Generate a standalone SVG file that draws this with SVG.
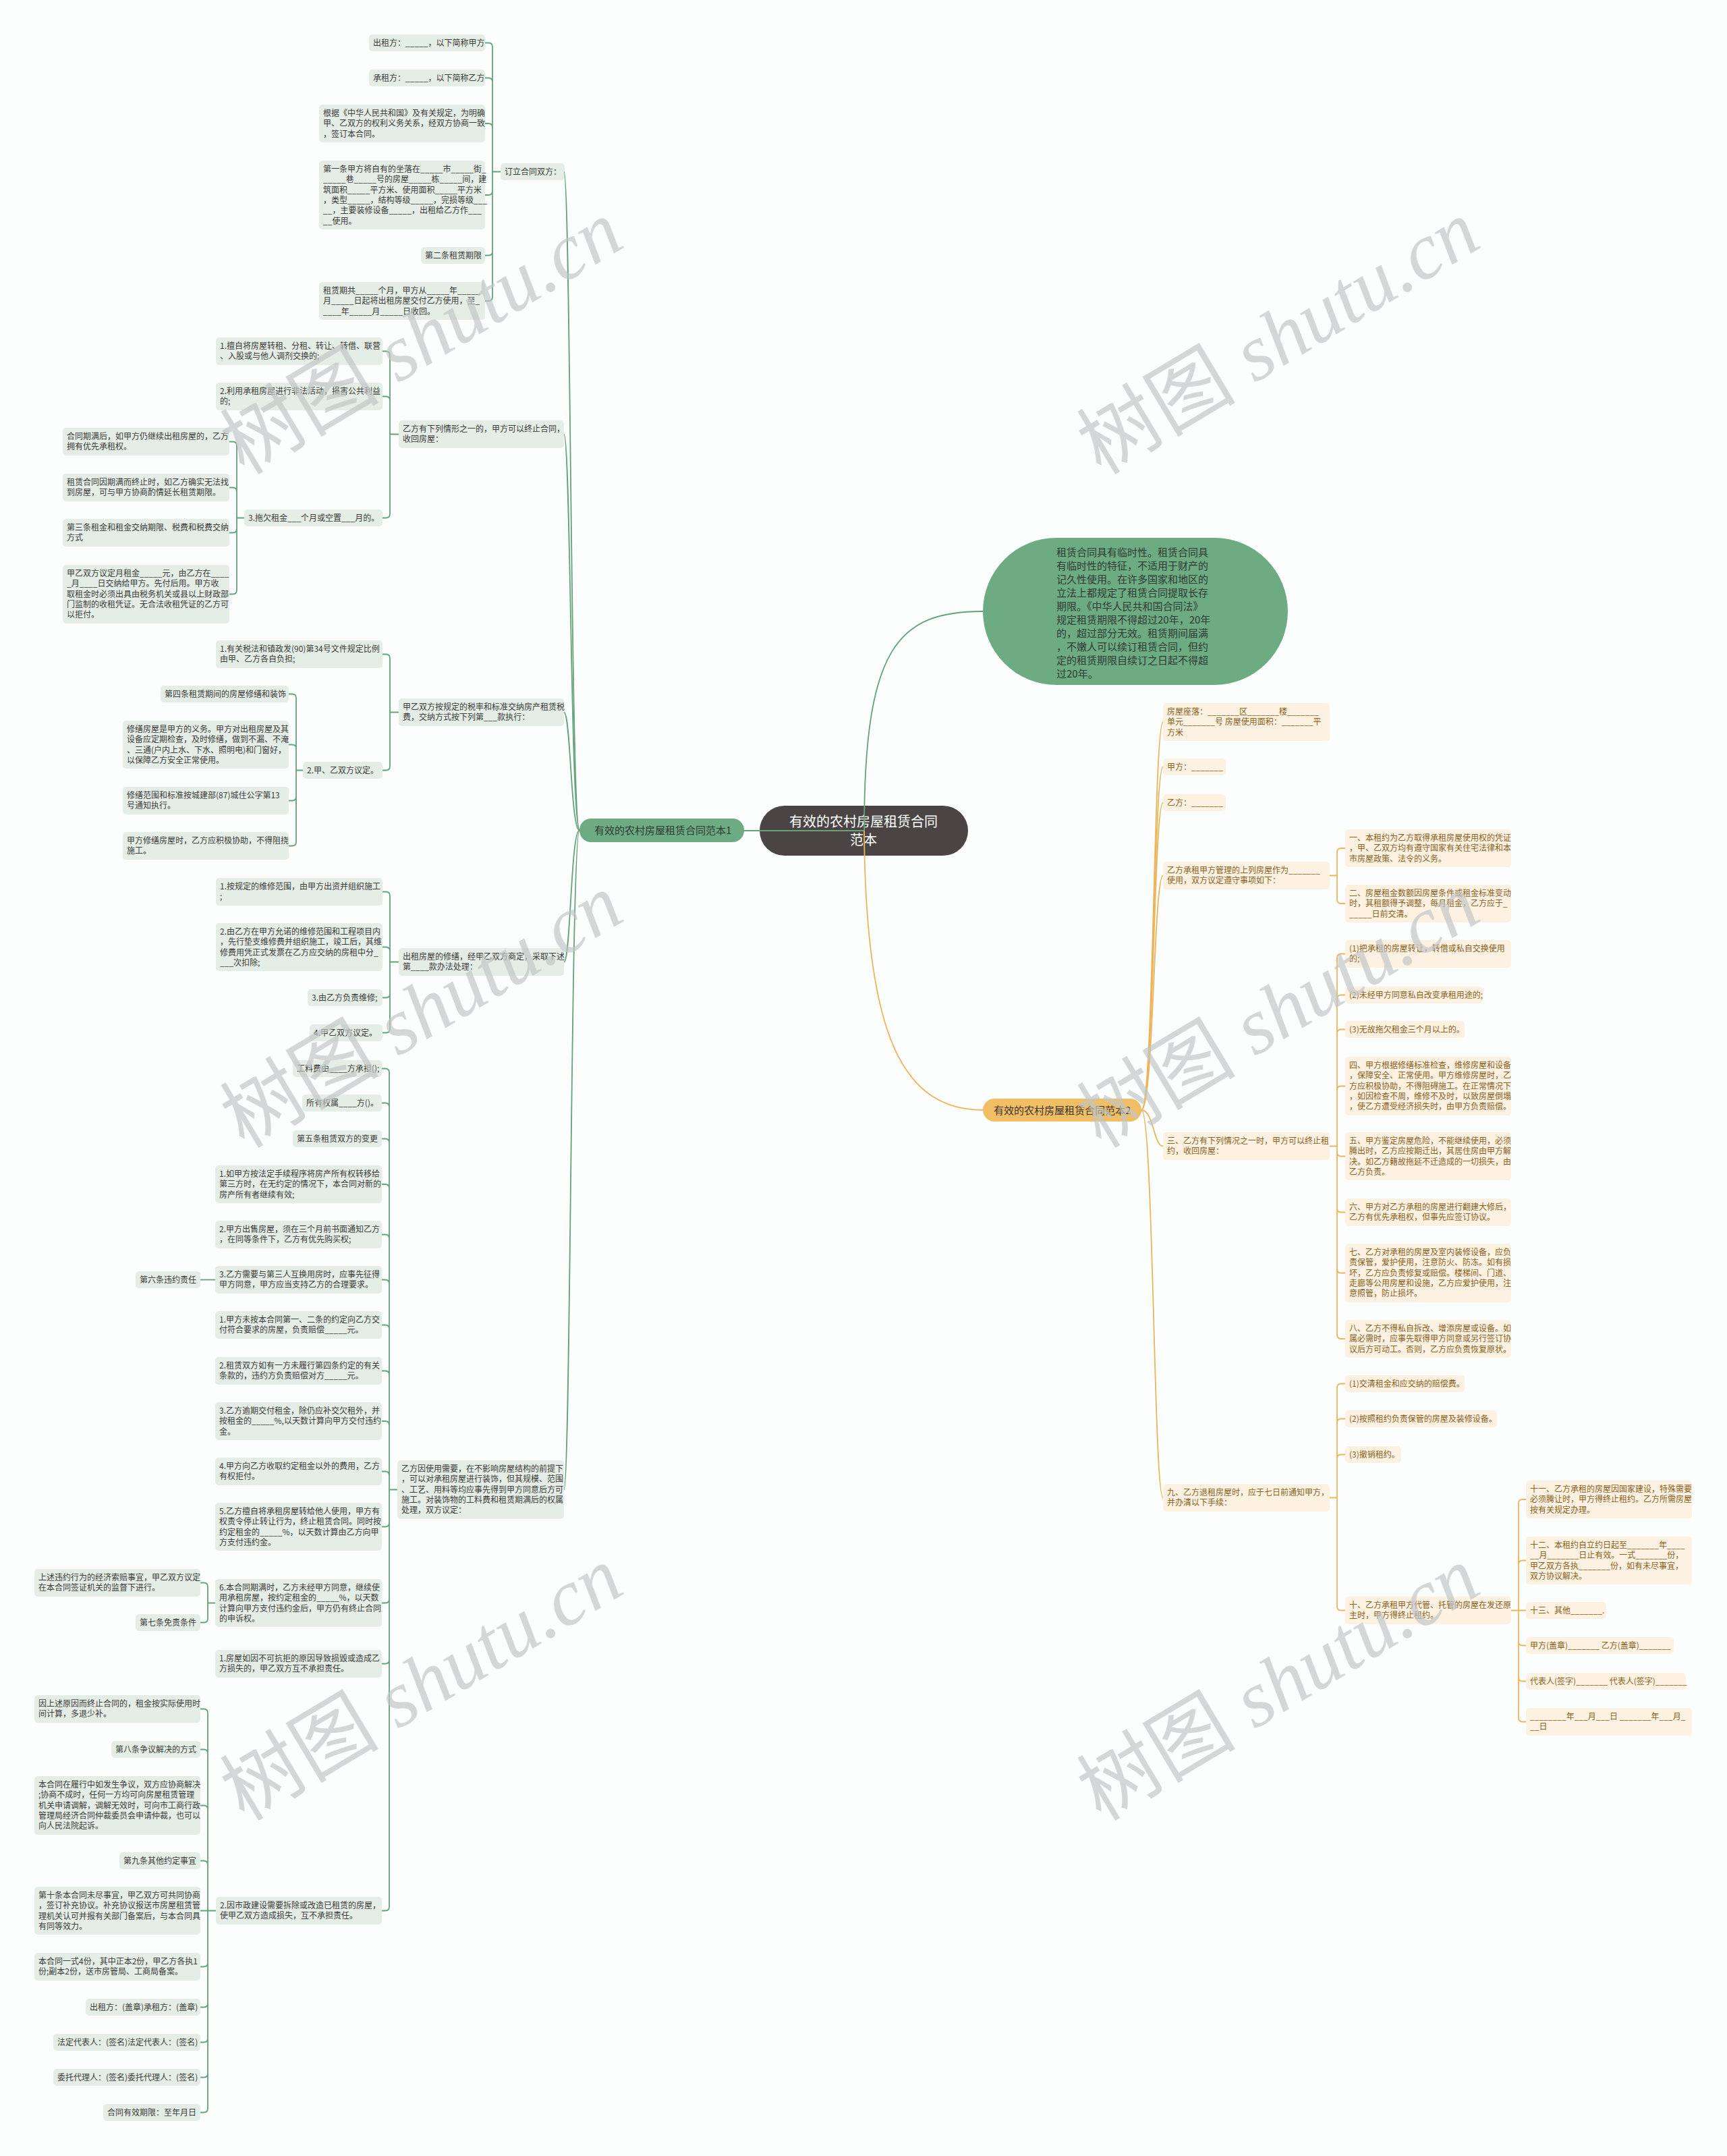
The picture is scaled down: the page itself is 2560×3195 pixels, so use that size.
<svg xmlns="http://www.w3.org/2000/svg" width="2560" height="3195" viewBox="0 0 2560 3195">
<style>
text{font-family:"Noto Sans CJK SC","Noto Sans",sans-serif;font-size:12px}
.l rect{fill:#e4eee6}
.l text{fill:#3b3b3b}
.r rect{fill:#fdf1e1}
.r text{fill:#8a5f1c}
.cg{fill:none;stroke:#64a27a;stroke-width:1.8}
.co{fill:none;stroke:#ebb55d;stroke-width:1.8}
.wm text{font-size:118px;fill:#c2c6c6;opacity:.68}
.wm .s{font-family:"Liberation Serif",serif;font-style:italic}
</style>
<rect x="0" y="0" width="2560" height="3195" fill="#fbfefd"/>
<g id="nodes">
<g id="root"><rect x="1126" y="1194" width="309" height="74" rx="37" fill="#4a4544"/><text x="1280" y="1225" text-anchor="middle" style="font-size:20px;fill:#ffffff">有效的农村房屋租赁合同<tspan x="1280" dy="27">范本</tspan></text></g>
<g id="intro"><rect x="1457" y="797" width="452" height="218" rx="109" fill="#6dab82"/><text x="1566" y="824" style="font-size:15px;fill:#2f3a33">租赁合同具有临时性。租赁合同具<tspan x="1566" dy="20">有临时性的特征，不适用于财产的</tspan><tspan x="1566" dy="20">记久性使用。在许多国家和地区的</tspan><tspan x="1566" dy="20">立法上都规定了租赁合同提取长存</tspan><tspan x="1566" dy="20">期限。《中华人民共和国合同法》</tspan><tspan x="1566" dy="20">规定租赁期限不得超过20年，20年</tspan><tspan x="1566" dy="20">的，超过部分无效。租赁期间届满</tspan><tspan x="1566" dy="20">，不嫩人可以续订租赁合同，但约</tspan><tspan x="1566" dy="20">定的租赁期限自续订之日起不得超</tspan><tspan x="1566" dy="20">过20年。</tspan></text></g>
<g id="b1"><rect x="859" y="1213" width="244" height="35" rx="17" fill="#6dab82"/><text x="881" y="1236" style="font-size:15px;fill:#2f3a33">有效的农村房屋租赁合同范本1</text></g>
<g id="b2"><rect x="1457" y="1628" width="235" height="34" rx="17" fill="#f0be64"/><text x="1473" y="1651" style="font-size:15px;fill:#3d3325">有效的农村房屋租赁合同范本2</text></g>

<g id="A" class="l"><rect x="742" y="242" width="95" height="25" rx="5"/><text x="748" y="259">订立合同双方：</text></g>
<g id="A1" class="l"><rect x="547" y="51" width="172" height="25" rx="5"/><text x="553" y="68">出租方：_____，以下简称甲方</text></g>
<g id="A2" class="l"><rect x="547" y="103" width="172" height="25" rx="5"/><text x="553" y="120">承租方：_____，以下简称乙方</text></g>
<g id="A3" class="l"><rect x="473" y="155" width="246" height="56" rx="5"/><text x="479" y="172">根据《中华人民共和国》及有关规定，为明确<tspan x="479" dy="15.3">甲、乙双方的权利义务关系，经双方协商一致</tspan><tspan x="479" dy="15.3">，签订本合同。</tspan></text></g>
<g id="A4" class="l"><rect x="473" y="238" width="246" height="102" rx="5"/><text x="479" y="255">第一条甲方将自有的坐落在_____市_____街_<tspan x="479" dy="15.3">_____巷_____号的房屋_____栋_____间，建</tspan><tspan x="479" dy="15.3">筑面积_____平方米、使用面积_____平方米</tspan><tspan x="479" dy="15.3">，类型_____，结构等级_____，完损等级___</tspan><tspan x="479" dy="15.3">__，主要装修设备_____，出租给乙方作___</tspan><tspan x="479" dy="15.3">__使用。</tspan></text></g>
<g id="A5" class="l"><rect x="624" y="366" width="95" height="25" rx="5"/><text x="630" y="383">第二条租赁期限</text></g>
<g id="A6" class="l"><rect x="473" y="418" width="246" height="56" rx="5"/><text x="479" y="435">租赁期共_____个月，甲方从_____年_____<tspan x="479" dy="15.3">月_____日起将出租房屋交付乙方使用，至_</tspan><tspan x="479" dy="15.3">____年_____月_____日收回。</tspan></text></g>

<g id="B" class="l"><rect x="591" y="623" width="245" height="41" rx="5"/><text x="597" y="640">乙方有下列情形之一的，甲方可以终止合同，<tspan x="597" dy="15.3">收回房屋：</tspan></text></g>
<g id="B1" class="l"><rect x="320" y="500" width="247" height="41" rx="5"/><text x="326" y="517">1.擅自将房屋转租、分租、转让、转借、联营<tspan x="326" dy="15.3">、入股或与他人调剂交换的;</tspan></text></g>
<g id="B2" class="l"><rect x="320" y="567" width="247" height="41" rx="5"/><text x="326" y="584">2.利用承租房屋进行非法活动，损害公共利益<tspan x="326" dy="15.3">的;</tspan></text></g>
<g id="B3" class="l"><rect x="362" y="755" width="205" height="25" rx="5"/><text x="368" y="772">3.拖欠租金___个月或空置___月的。</text></g>
<g id="B3a" class="l"><rect x="93" y="634" width="247" height="41" rx="5"/><text x="99" y="651">合同期满后，如甲方仍继续出租房屋的，乙方<tspan x="99" dy="15.3">拥有优先承租权。</tspan></text></g>
<g id="B3b" class="l"><rect x="93" y="702" width="247" height="41" rx="5"/><text x="99" y="719">租赁合同因期满而终止时，如乙方确实无法找<tspan x="99" dy="15.3">到房屋，可与甲方协商酌情延长租赁期限。</tspan></text></g>
<g id="B3c" class="l"><rect x="93" y="769" width="247" height="41" rx="5"/><text x="99" y="786">第三条租金和租金交纳期限、税费和税费交纳<tspan x="99" dy="15.3">方式</tspan></text></g>
<g id="B3d" class="l"><rect x="93" y="837" width="247" height="87" rx="5"/><text x="99" y="854">甲乙双方议定月租金_____元，由乙方在____<tspan x="99" dy="15.3">_月____日交纳给甲方。先付后用。甲方收</tspan><tspan x="99" dy="15.3">取租金时必须出具由税务机关或县以上财政部</tspan><tspan x="99" dy="15.3">门监制的收租凭证。无合法收租凭证的乙方可</tspan><tspan x="99" dy="15.3">以拒付。</tspan></text></g>

<g id="C" class="l"><rect x="591" y="1035" width="245" height="41" rx="5"/><text x="597" y="1052">甲乙双方按规定的税率和标准交纳房产租赁税<tspan x="597" dy="15.3">费，交纳方式按下列第___款执行：</tspan></text></g>
<g id="C1" class="l"><rect x="320" y="949" width="247" height="41" rx="5"/><text x="326" y="966">1.有关税法和镇政发(90)第34号文件规定比例<tspan x="326" dy="15.3">由甲、乙方各自负担;</tspan></text></g>
<g id="C2" class="l"><rect x="449" y="1129" width="118" height="25" rx="5"/><text x="455" y="1146">2.甲、乙双方议定。</text></g>
<g id="C2a" class="l"><rect x="238" y="1016" width="190" height="25" rx="5"/><text x="244" y="1033">第四条租赁期间的房屋修缮和装饰</text></g>
<g id="C2b" class="l"><rect x="182" y="1068" width="246" height="71" rx="5"/><text x="188" y="1085">修缮房屋是甲方的义务。甲方对出租房屋及其<tspan x="188" dy="15.3">设备应定期检查，及时修缮，做到不漏、不淹</tspan><tspan x="188" dy="15.3">、三通(户内上水、下水、照明电)和门窗好，</tspan><tspan x="188" dy="15.3">以保障乙方安全正常使用。</tspan></text></g>
<g id="C2c" class="l"><rect x="182" y="1166" width="246" height="41" rx="5"/><text x="188" y="1183">修缮范围和标准按城建部(87)城住公字第13<tspan x="188" dy="15.3">号通知执行。</tspan></text></g>
<g id="C2d" class="l"><rect x="182" y="1233" width="246" height="41" rx="5"/><text x="188" y="1250">甲方修缮房屋时，乙方应积极协助，不得阻挠<tspan x="188" dy="15.3">施工。</tspan></text></g>

<g id="D" class="l"><rect x="591" y="1405" width="245" height="41" rx="5"/><text x="597" y="1422">出租房屋的修缮，经甲乙双方商定，采取下述<tspan x="597" dy="15.3">第____款办法处理：</tspan></text></g>
<g id="D1" class="l"><rect x="320" y="1301" width="247" height="41" rx="5"/><text x="326" y="1318">1.按规定的维修范围，由甲方出资并组织施工<tspan x="326" dy="15.3">;</tspan></text></g>
<g id="D2" class="l"><rect x="320" y="1368" width="247" height="71" rx="5"/><text x="326" y="1385">2.由乙方在甲方允诺的维修范围和工程项目内<tspan x="326" dy="15.3">，先行垫支维修费并组织施工，竣工后，其维</tspan><tspan x="326" dy="15.3">修费用凭正式发票在乙方应交纳的房租中分_</tspan><tspan x="326" dy="15.3">___次扣除;</tspan></text></g>
<g id="D3" class="l"><rect x="456" y="1466" width="111" height="25" rx="5"/><text x="462" y="1483">3.由乙方负责维修;</text></g>
<g id="D4" class="l"><rect x="459" y="1518" width="108" height="25" rx="5"/><text x="465" y="1535">4.甲乙双方议定。</text></g>

<g id="E" class="l"><rect x="589" y="2164" width="247" height="87" rx="5"/><text x="595" y="2181">乙方因使用需要，在不影响房屋结构的前提下<tspan x="595" dy="15.3">，可以对承租房屋进行装饰，但其规模、范围</tspan><tspan x="595" dy="15.3">、工艺、用料等均应事先得到甲方同意后方可</tspan><tspan x="595" dy="15.3">施工。对装饰物的工料费和租赁期满后的权属</tspan><tspan x="595" dy="15.3">处理，双方议定：</tspan></text></g>
<g id="E1" class="l"><rect x="434" y="1571" width="132" height="25" rx="5"/><text x="440" y="1588">工料费由____方承担();</text></g>
<g id="E2" class="l"><rect x="448" y="1622" width="118" height="25" rx="5"/><text x="454" y="1639">所有权属____方()。</text></g>
<g id="E3" class="l"><rect x="434" y="1675" width="132" height="25" rx="5"/><text x="440" y="1692">第五条租赁双方的变更</text></g>
<g id="E4" class="l"><rect x="319" y="1727" width="247" height="56" rx="5"/><text x="325" y="1744">1.如甲方按法定手续程序将房产所有权转移给<tspan x="325" dy="15.3">第三方时，在无约定的情况下，本合同对新的</tspan><tspan x="325" dy="15.3">房产所有者继续有效;</tspan></text></g>
<g id="E5" class="l"><rect x="319" y="1809" width="247" height="41" rx="5"/><text x="325" y="1826">2.甲方出售房屋，须在三个月前书面通知乙方<tspan x="325" dy="15.3">，在同等条件下，乙方有优先购买权;</tspan></text></g>
<g id="E6" class="l"><rect x="319" y="1876" width="247" height="41" rx="5"/><text x="325" y="1893">3.乙方需要与第三人互换用房时，应事先征得<tspan x="325" dy="15.3">甲方同意，甲方应当支持乙方的合理要求。</tspan></text></g>
<g id="E6a" class="l"><rect x="201" y="1884" width="96" height="25" rx="5"/><text x="207" y="1901">第六条违约责任</text></g>
<g id="E7" class="l"><rect x="319" y="1943" width="247" height="41" rx="5"/><text x="325" y="1960">1.甲方未按本合同第一、二条的约定向乙方交<tspan x="325" dy="15.3">付符合要求的房屋，负责赔偿_____元。</tspan></text></g>
<g id="E8" class="l"><rect x="319" y="2011" width="247" height="41" rx="5"/><text x="325" y="2028">2.租赁双方如有一方未履行第四条约定的有关<tspan x="325" dy="15.3">条款的，违约方负责赔偿对方_____元。</tspan></text></g>
<g id="E9" class="l"><rect x="319" y="2078" width="247" height="56" rx="5"/><text x="325" y="2095">3.乙方逾期交付租金，除仍应补交欠租外，并<tspan x="325" dy="15.3">按租金的_____%,以天数计算向甲方交付违约</tspan><tspan x="325" dy="15.3">金。</tspan></text></g>
<g id="E10" class="l"><rect x="319" y="2160" width="247" height="41" rx="5"/><text x="325" y="2177">4.甲方向乙方收取约定租金以外的费用，乙方<tspan x="325" dy="15.3">有权拒付。</tspan></text></g>
<g id="E11" class="l"><rect x="319" y="2227" width="247" height="71" rx="5"/><text x="325" y="2244">5.乙方擅自将承租房屋转给他人使用，甲方有<tspan x="325" dy="15.3">权责令停止转让行为，终止租赁合同。同时按</tspan><tspan x="325" dy="15.3">约定租金的_____%，以天数计算由乙方向甲</tspan><tspan x="325" dy="15.3">方支付违约金。</tspan></text></g>
<g id="E12" class="l"><rect x="319" y="2340" width="247" height="71" rx="5"/><text x="325" y="2357">6.本合同期满时，乙方未经甲方同意，继续使<tspan x="325" dy="15.3">用承租房屋，按约定租金的_____%，以天数</tspan><tspan x="325" dy="15.3">计算向甲方支付违约金后，甲方仍有终止合同</tspan><tspan x="325" dy="15.3">的申诉权。</tspan></text></g>
<g id="E12a" class="l"><rect x="51" y="2325" width="246" height="41" rx="5"/><text x="57" y="2342">上述违约行为的经济索赔事宜，甲乙双方议定<tspan x="57" dy="15.3">在本合同签证机关的监督下进行。</tspan></text></g>
<g id="E12b" class="l"><rect x="201" y="2392" width="96" height="25" rx="5"/><text x="207" y="2409">第七条免责条件</text></g>
<g id="E13" class="l"><rect x="319" y="2445" width="247" height="41" rx="5"/><text x="325" y="2462">1.房屋如因不可抗拒的原因导致损毁或造成乙<tspan x="325" dy="15.3">方损失的，甲乙双方互不承担责任。</tspan></text></g>
<g id="E14" class="l"><rect x="320" y="2811" width="246" height="41" rx="5"/><text x="326" y="2828">2.因市政建设需要拆除或改造已租赁的房屋，<tspan x="326" dy="15.3">使甲乙双方造成损失，互不承担责任。</tspan></text></g>
<g id="E14a" class="l"><rect x="51" y="2512" width="246" height="41" rx="5"/><text x="57" y="2529">因上述原因而终止合同的，租金按实际使用时<tspan x="57" dy="15.3">间计算，多退少补。</tspan></text></g>
<g id="E14b" class="l"><rect x="165" y="2580" width="132" height="25" rx="5"/><text x="171" y="2597">第八条争议解决的方式</text></g>
<g id="E14c" class="l"><rect x="51" y="2632" width="246" height="87" rx="5"/><text x="57" y="2649">本合同在履行中如发生争议，双方应协商解决<tspan x="57" dy="15.3">;协商不成时，任何一方均可向房屋租赁管理</tspan><tspan x="57" dy="15.3">机关申请调解，调解无效时，可向市工商行政</tspan><tspan x="57" dy="15.3">管理局经济合同仲裁委员会申请仲裁，也可以</tspan><tspan x="57" dy="15.3">向人民法院起诉。</tspan></text></g>
<g id="E14d" class="l"><rect x="177" y="2745" width="120" height="25" rx="5"/><text x="183" y="2762">第九条其他约定事宜</text></g>
<g id="E14e" class="l"><rect x="51" y="2796" width="246" height="71" rx="5"/><text x="57" y="2813">第十条本合同未尽事宜，甲乙双方可共同协商<tspan x="57" dy="15.3">，签订补充协议。补充协议报送市房屋租赁管</tspan><tspan x="57" dy="15.3">理机关认可并报有关部门备案后，与本合同具</tspan><tspan x="57" dy="15.3">有同等效力。</tspan></text></g>
<g id="E14f" class="l"><rect x="51" y="2894" width="246" height="41" rx="5"/><text x="57" y="2911">本合同一式4份，其中正本2份，甲乙方各执1<tspan x="57" dy="15.3">份;副本2份，送市房管局、工商局备案。</tspan></text></g>
<g id="E14g" class="l"><rect x="127" y="2962" width="170" height="25" rx="5"/><text x="133" y="2979">出租方：(盖章)承租方：(盖章)</text></g>
<g id="E14h" class="l"><rect x="79" y="3014" width="218" height="25" rx="5"/><text x="85" y="3031">法定代表人：(签名)法定代表人：(签名)</text></g>
<g id="E14i" class="l"><rect x="79" y="3066" width="218" height="25" rx="5"/><text x="85" y="3083">委托代理人：(签名)委托代理人：(签名)</text></g>
<g id="E14j" class="l"><rect x="153" y="3118" width="144" height="25" rx="5"/><text x="159" y="3135">合同有效期限：至年月日</text></g>

<g id="R1" class="r"><rect x="1724" y="1042" width="247" height="56" rx="5"/><text x="1730" y="1059">房屋座落：_______区_______楼_______<tspan x="1730" dy="15.3">单元_______号 房屋使用面积：_______平</tspan><tspan x="1730" dy="15.3">方米</tspan></text></g>
<g id="R2" class="r"><rect x="1724" y="1124" width="93" height="25" rx="5"/><text x="1730" y="1141">甲方：_______</text></g>
<g id="R3" class="r"><rect x="1724" y="1177" width="93" height="25" rx="5"/><text x="1730" y="1194">乙方：_______</text></g>
<g id="R4" class="r"><rect x="1724" y="1277" width="247" height="41" rx="5"/><text x="1730" y="1294">乙方承租甲方管理的上列房屋作为_______<tspan x="1730" dy="15.3">使用，双方议定遵守事项如下：</tspan></text></g>
<g id="R4a" class="r"><rect x="1994" y="1229" width="246" height="56" rx="5"/><text x="2000" y="1246">一、本租约为乙方取得承租房屋使用权的凭证<tspan x="2000" dy="15.3">，甲、乙双方均有遵守国家有关住宅法律和本</tspan><tspan x="2000" dy="15.3">市房屋政策、法令的义务。</tspan></text></g>
<g id="R4b" class="r"><rect x="1994" y="1311" width="246" height="56" rx="5"/><text x="2000" y="1328">二、房屋租金数额因房屋条件或租金标准变动<tspan x="2000" dy="15.3">时，其租额得予调整，每月租金，乙方应于_</tspan><tspan x="2000" dy="15.3">_____日前交清。</tspan></text></g>
<g id="R5" class="r"><rect x="1724" y="1678" width="247" height="41" rx="5"/><text x="1730" y="1695">三、乙方有下列情况之一时，甲方可以终止租<tspan x="1730" dy="15.3">约，收回房屋：</tspan></text></g>
<g id="R5a" class="r"><rect x="1994" y="1393" width="246" height="41" rx="5"/><text x="2000" y="1410">(1)把承租的房屋转让，转借或私自交换使用<tspan x="2000" dy="15.3">的;</tspan></text></g>
<g id="R5b" class="r"><rect x="1994" y="1462" width="204" height="25" rx="5"/><text x="2000" y="1479">(2)未经甲方同意私自改变承租用途的;</text></g>
<g id="R5c" class="r"><rect x="1994" y="1513" width="177" height="25" rx="5"/><text x="2000" y="1530">(3)无故拖欠租金三个月以上的。</text></g>
<g id="R5d" class="r"><rect x="1994" y="1566" width="246" height="87" rx="5"/><text x="2000" y="1583">四、甲方根据修缮标准检查，维修房屋和设备<tspan x="2000" dy="15.3">，保障安全、正常使用。甲方维修房屋时，乙</tspan><tspan x="2000" dy="15.3">方应积极协助，不得阻碍施工。在正常情况下</tspan><tspan x="2000" dy="15.3">，如因检查不周，维修不及时，以致房屋倒塌</tspan><tspan x="2000" dy="15.3">，使乙方遭受经济损失时，由甲方负责赔偿。</tspan></text></g>
<g id="R5e" class="r"><rect x="1994" y="1678" width="246" height="71" rx="5"/><text x="2000" y="1695">五、甲方鉴定房屋危险，不能继续使用，必须<tspan x="2000" dy="15.3">腾出时，乙方应按期迁出，其居住房由甲方解</tspan><tspan x="2000" dy="15.3">决。如乙方籍故拖延不迁造成的一切损失，由</tspan><tspan x="2000" dy="15.3">乙方负责。</tspan></text></g>
<g id="R5f" class="r"><rect x="1994" y="1776" width="246" height="41" rx="5"/><text x="2000" y="1793">六、甲方对乙方承租的房屋进行翻建大修后，<tspan x="2000" dy="15.3">乙方有优先承租权，但事先应签订协议。</tspan></text></g>
<g id="R5g" class="r"><rect x="1994" y="1843" width="246" height="87" rx="5"/><text x="2000" y="1860">七、乙方对承租的房屋及室内装修设备，应负<tspan x="2000" dy="15.3">责保管，爱护使用，注意防火、防冻。如有损</tspan><tspan x="2000" dy="15.3">坏，乙方应负责修复或赔偿。楼梯间、门道、</tspan><tspan x="2000" dy="15.3">走廊等公用房屋和设施，乙方应爱护使用，注</tspan><tspan x="2000" dy="15.3">意照管，防止损坏。</tspan></text></g>
<g id="R5h" class="r"><rect x="1994" y="1956" width="246" height="56" rx="5"/><text x="2000" y="1973">八、乙方不得私自拆改、增添房屋或设备。如<tspan x="2000" dy="15.3">属必需时，应事先取得甲方同意或另行签订协</tspan><tspan x="2000" dy="15.3">议后方可动工。否则，乙方应负责恢复原状。</tspan></text></g>
<g id="R6" class="r"><rect x="1724" y="2199" width="247" height="41" rx="5"/><text x="1730" y="2216">九、乙方退租房屋时，应于七日前通知甲方，<tspan x="1730" dy="15.3">并办清以下手续：</tspan></text></g>
<g id="R6a" class="r"><rect x="1994" y="2038" width="177" height="25" rx="5"/><text x="2000" y="2055">(1)交清租金和应交纳的赔偿费。</text></g>
<g id="R6b" class="r"><rect x="1994" y="2090" width="225" height="25" rx="5"/><text x="2000" y="2107">(2)按照租约负责保管的房屋及装修设备。</text></g>
<g id="R6c" class="r"><rect x="1994" y="2143" width="83" height="25" rx="5"/><text x="2000" y="2160">(3)撤销租约。</text></g>
<g id="R6d" class="r"><rect x="1994" y="2366" width="246" height="41" rx="5"/><text x="2000" y="2383">十、乙方承租甲方代管、托管的房屋在发还原<tspan x="2000" dy="15.3">主时，甲方得终止租约。</tspan></text></g>
<g id="R6d1" class="r"><rect x="2262" y="2194" width="246" height="56" rx="5"/><text x="2268" y="2211">十一、乙方承租的房屋因国家建设，特殊需要<tspan x="2268" dy="15.3">必须腾让时，甲方得终止租约。乙方所需房屋</tspan><tspan x="2268" dy="15.3">按有关规定办理。</tspan></text></g>
<g id="R6d2" class="r"><rect x="2262" y="2277" width="246" height="71" rx="5"/><text x="2268" y="2294">十二、本租约自立约日起至_______年____<tspan x="2268" dy="15.3">__月_______日止有效。一式_______份，</tspan><tspan x="2268" dy="15.3">甲乙双方各执_______份，如有未尽事宜，</tspan><tspan x="2268" dy="15.3">双方协议解决。</tspan></text></g>
<g id="R6d3" class="r"><rect x="2262" y="2374" width="119" height="25" rx="5"/><text x="2268" y="2391">十三、其他_______.</text></g>
<g id="R6d4" class="r"><rect x="2262" y="2426" width="219" height="25" rx="5"/><text x="2268" y="2443">甲方(盖章)_______ 乙方(盖章)_______</text></g>
<g id="R6d5" class="r"><rect x="2262" y="2479" width="237" height="25" rx="5"/><text x="2268" y="2496">代表人(签字)_______ 代表人(签字)_______</text></g>
<g id="R6d6" class="r"><rect x="2262" y="2531" width="246" height="41" rx="5"/><text x="2268" y="2548">________年___月___日 _______年___月_<tspan x="2268" dy="15.3">__日</tspan></text></g>
</g>

<g id="connectors">
<path class="cg" d="M1281 1231C1281 960 1330 906 1457 906"/>
<path class="cg" d="M1281 1231H1103"/>
<path class="co" d="M1281 1231C1283 1540 1340 1645 1458 1645"/>
<path class="cg" d="M859 1230.5C846 1230.5 846 254.5 836 254.5"/>
<path class="cg" d="M859 1230.5C846 1230.5 846 643.5 836 643.5"/>
<path class="cg" d="M859 1230.5C846 1230.5 846 1055.5 836 1055.5"/>
<path class="cg" d="M859 1230.5C846 1230.5 846 1425.5 836 1425.5"/>
<path class="cg" d="M859 1230.5C846 1230.5 846 2207.5 836 2207.5"/>
<path class="cg" d="M742 254.5H730V69.5Q730 63.5 724 63.5H719M742 254.5H730V121.5Q730 115.5 724 115.5H719M742 254.5H730V189Q730 183 724 183H719M742 254.5H730V283Q730 289 724 289H719M742 254.5H730V372.5Q730 378.5 724 378.5H719M742 254.5H730V440Q730 446 724 446H719"/>
<path class="cg" d="M591 643.5H578V526.5Q578 520.5 572 520.5H567M591 643.5H578V593.5Q578 587.5 572 587.5H567M591 643.5H578V761.5Q578 767.5 572 767.5H567"/>
<path class="cg" d="M362 767.5H351V660.5Q351 654.5 345 654.5H340M362 767.5H351V728.5Q351 722.5 345 722.5H340M362 767.5H351V783.5Q351 789.5 345 789.5H340M362 767.5H351V874.5Q351 880.5 345 880.5H340"/>
<path class="cg" d="M591 1055.5H578V975.5Q578 969.5 572 969.5H567M591 1055.5H578V1135.5Q578 1141.5 572 1141.5H567"/>
<path class="cg" d="M449 1141.5H439V1034.5Q439 1028.5 433 1028.5H428M449 1141.5H439V1109.5Q439 1103.5 433 1103.5H428M449 1141.5H439V1180.5Q439 1186.5 433 1186.5H428M449 1141.5H439V1247.5Q439 1253.5 433 1253.5H428"/>
<path class="cg" d="M591 1425.5H578V1327.5Q578 1321.5 572 1321.5H567M591 1425.5H578V1409.5Q578 1403.5 572 1403.5H567M591 1425.5H578V1472.5Q578 1478.5 572 1478.5H567M591 1425.5H578V1524.5Q578 1530.5 572 1530.5H567"/>
<path class="cg" d="M589 2207.5H577V1589.5Q577 1583.5 571 1583.5H566M589 2207.5H577V1640.5Q577 1634.5 571 1634.5H566M589 2207.5H577V1693.5Q577 1687.5 571 1687.5H566M589 2207.5H577V1761Q577 1755 571 1755H566M589 2207.5H577V1835.5Q577 1829.5 571 1829.5H566M589 2207.5H577V1902.5Q577 1896.5 571 1896.5H566M589 2207.5H577V1969.5Q577 1963.5 571 1963.5H566M589 2207.5H577V2037.5Q577 2031.5 571 2031.5H566M589 2207.5H577V2112Q577 2106 571 2106H566M589 2207.5H577V2186.5Q577 2180.5 571 2180.5H566M589 2207.5H577V2256.5Q577 2262.5 571 2262.5H566M589 2207.5H577V2369.5Q577 2375.5 571 2375.5H566M589 2207.5H577V2459.5Q577 2465.5 571 2465.5H566M589 2207.5H577V2825.5Q577 2831.5 571 2831.5H566"/>
<path class="cg" d="M319 1896.5H297"/>
<path class="cg" d="M319 2375.5H308V2351.5Q308 2345.5 302 2345.5H297M319 2375.5H308V2398.5Q308 2404.5 302 2404.5H297"/>
<path class="cg" d="M320 2831.5H308V2538.5Q308 2532.5 302 2532.5H297M320 2831.5H308V2598.5Q308 2592.5 302 2592.5H297M320 2831.5H308V2681.5Q308 2675.5 302 2675.5H297M320 2831.5H308V2763.5Q308 2757.5 302 2757.5H297M320 2831.5H297M320 2831.5H308V2908.5Q308 2914.5 302 2914.5H297M320 2831.5H308V2968.5Q308 2974.5 302 2974.5H297M320 2831.5H308V3020.5Q308 3026.5 302 3026.5H297M320 2831.5H308V3072.5Q308 3078.5 302 3078.5H297M320 2831.5H308V3124.5Q308 3130.5 302 3130.5H297"/>
<path class="co" d="M1692 1645C1710 1645 1710 1070 1724 1070"/>
<path class="co" d="M1692 1645C1710 1645 1710 1136.5 1724 1136.5"/>
<path class="co" d="M1692 1645C1710 1645 1710 1189.5 1724 1189.5"/>
<path class="co" d="M1692 1645C1710 1645 1710 1297.5 1724 1297.5"/>
<path class="co" d="M1692 1645C1710 1645 1710 1698.5 1724 1698.5"/>
<path class="co" d="M1692 1645C1710 1645 1710 2219.5 1724 2219.5"/>
<path class="co" d="M1971 1297.5H1982V1263Q1982 1257 1988 1257H1994M1971 1297.5H1982V1333Q1982 1339 1988 1339H1994"/>
<path class="co" d="M1971 1698.5H1982V1419.5Q1982 1413.5 1988 1413.5H1994M1971 1698.5H1982V1480.5Q1982 1474.5 1988 1474.5H1994M1971 1698.5H1982V1531.5Q1982 1525.5 1988 1525.5H1994M1971 1698.5H1982V1615.5Q1982 1609.5 1988 1609.5H1994M1971 1698.5H1982V1707.5Q1982 1713.5 1988 1713.5H1994M1971 1698.5H1982V1790.5Q1982 1796.5 1988 1796.5H1994M1971 1698.5H1982V1880.5Q1982 1886.5 1988 1886.5H1994M1971 1698.5H1982V1978Q1982 1984 1988 1984H1994"/>
<path class="co" d="M1971 2219.5H1982V2056.5Q1982 2050.5 1988 2050.5H1994M1971 2219.5H1982V2108.5Q1982 2102.5 1988 2102.5H1994M1971 2219.5H1982V2161.5Q1982 2155.5 1988 2155.5H1994M1971 2219.5H1982V2380.5Q1982 2386.5 1988 2386.5H1994"/>
<path class="co" d="M2240 2386.5H2251V2228Q2251 2222 2257 2222H2262M2240 2386.5H2251V2318.5Q2251 2312.5 2257 2312.5H2262M2240 2386.5H2262M2240 2386.5H2251V2432.5Q2251 2438.5 2257 2438.5H2262M2240 2386.5H2251V2485.5Q2251 2491.5 2257 2491.5H2262M2240 2386.5H2251V2545.5Q2251 2551.5 2257 2551.5H2262"/>
</g>

<g id="watermarks" class="wm">
<text transform="translate(362 705) rotate(-31)">树图<tspan class="s"> shutu.cn</tspan></text>
<text transform="translate(1632 705) rotate(-31)">树图<tspan class="s"> shutu.cn</tspan></text>
<text transform="translate(362 1703) rotate(-31)">树图<tspan class="s"> shutu.cn</tspan></text>
<text transform="translate(1632 1703) rotate(-31)">树图<tspan class="s"> shutu.cn</tspan></text>
<text transform="translate(362 2700) rotate(-31)">树图<tspan class="s"> shutu.cn</tspan></text>
<text transform="translate(1632 2700) rotate(-31)">树图<tspan class="s"> shutu.cn</tspan></text>
</g>
</svg>
